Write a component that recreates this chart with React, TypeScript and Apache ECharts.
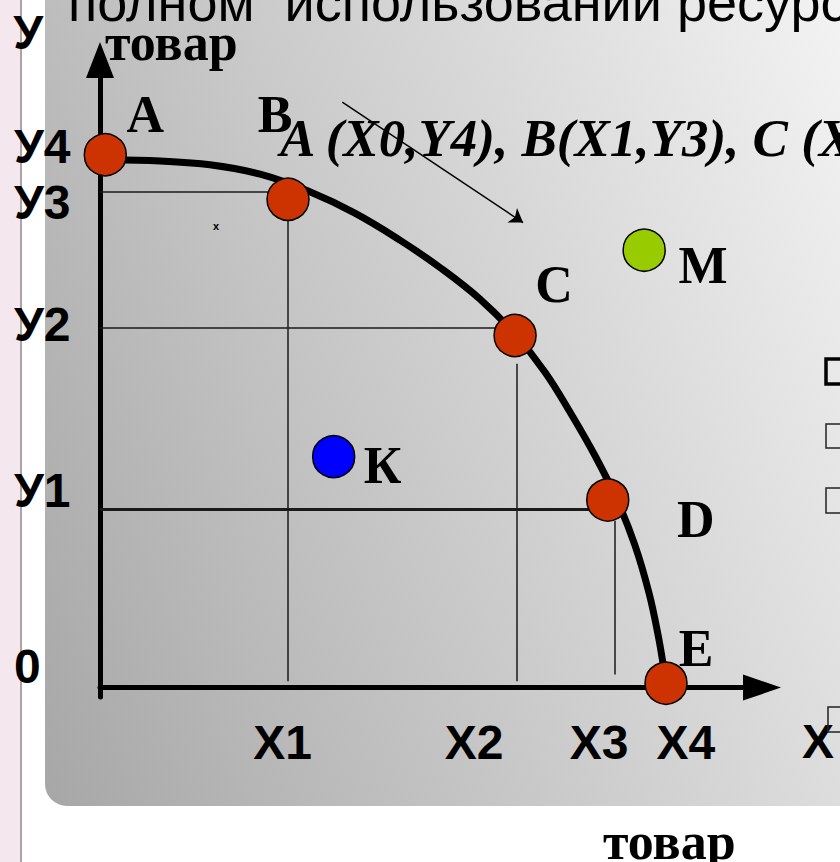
import React, { useEffect, useRef } from 'react';
import * as echarts from 'echarts';

// ---- tick labels ----
const xTickLabels = ['X1', 'X2', 'X3', 'X4'];
const xTickValues = [2.76, 5.65, 7.54, 8.85];
const yTickLabels = ['0', 'У1', 'У2', 'У3', 'У4'];
const yTickValues = [0.33, 3.14, 5.78, 7.73, 8.62];
const xAxisName = 'X';
const yAxisName = 'У';

// ---- frontier points ----
const frontierNames = ['A', 'B', 'C', 'D', 'E'];
const frontierX = [0.08, 2.84, 6.27, 7.67, 8.55];
const frontierY = [8.49, 7.78, 5.61, 2.99, 0.07];

// ---- other points ----
const otherNames = ['M', 'К'];
const otherX = [8.22, 3.53];
const otherY = [6.97, 3.68];

// ---- frontier curve ----
const curveX = [0.15, 0.91, 1.66, 2.42, 3.17, 3.85, 4.53, 5.14, 5.74, 6.27, 6.72, 7.1, 7.48, 7.81, 8.08, 8.29, 8.43, 8.52];
const curveY = [8.41, 8.39, 8.33, 8.18, 7.9, 7.56, 7.13, 6.69, 6.19, 5.63, 5.03, 4.39, 3.69, 2.99, 2.27, 1.52, 0.84, 0.28];

// ---- guide lines [x1, y1, x2, y2] ----
const guideLines = [
  [0, 7.9, 2.84, 7.9],
  [2.84, 7.78, 2.84, 0.1],
  [0, 5.73, 6.27, 5.73],
  [6.29, 5.16, 6.29, 0.1],
  [0, 2.84, 7.67, 2.84],
  [7.78, 2.66, 7.78, 0.21],
];
const guideWidths = [1.5, 1.5, 1.5, 1.5, 3, 1.5];

// ---- annotation arrow ----
const arrowFrom = [3.66, 9.33];
const arrowTo = [6.39, 7.41];

// ---- texts ----
const titleText = 'полном  использовании ресурсов';
const goodsText = 'товар';
const coordsText = 'A (X0,Y4), B(X1,Y3), C (X2,Y2), D (X3,Y1), E (X4,0)';
const strayText = 'x';

// ---- styles (kept apart from data) ----
const pointColors: Record<string, string> = {
  A: '#cc3300', B: '#cc3300', C: '#cc3300', D: '#cc3300', E: '#cc3300', M: '#99cc00', 'К': '#0000ff',
};
const labelOffsets: Record<string, [number, number]> = {
  A: [40, -40], B: [-13, -85], C: [39, -51], D: [88, 20], E: [30, -35], M: [59, 15], 'К': [49, 9],
};

const SANS = '"Liberation Sans", Arial, sans-serif';
const SERIF = '"Liberation Serif", "Times New Roman", serif';

function pick(values: number[], labels: string[], v: number) {
  const i = values.findIndex((t) => Math.abs(t - v) < 1e-6);
  return i >= 0 ? labels[i] : '';
}

export default function App() {
  const ref = useRef<HTMLDivElement>(null);

  useEffect(() => {
    if (!ref.current) return;
    const chart = echarts.init(ref.current, null, { renderer: 'svg', width: 840, height: 862 });

    const pointData = [
      ...frontierNames.map((n, i) => ({ name: n, value: [frontierX[i], frontierY[i]] })),
      ...otherNames.map((n, i) => ({ name: n, value: [otherX[i], otherY[i]] })),
    ].map((d) => ({
      ...d,
      itemStyle: { color: pointColors[d.name] },
      label: { offset: labelOffsets[d.name] },
    }));

    const labelFont = { fontFamily: SANS, fontWeight: 'bold' as const, fontSize: 48, color: '#000' };

    const option: any = {
      animation: false,
      backgroundColor: 'transparent',
      grid: { left: 100, top: 60, width: 662, height: 637, containLabel: false, outerBoundsMode: 'none' },
      xAxis: {
        type: 'value',
        min: 0,
        max: 10,
        axisLine: {
          show: true,
          onZero: true,
          lineStyle: { color: '#000', width: 5 },
          symbol: ['none', 'triangle'],
          symbolSize: [26, 38],
        },
        axisTick: { show: false },
        splitLine: { show: false },
        axisLabel: {
          customValues: xTickValues,
          formatter: (v: number) => pick(xTickValues, xTickLabels, v),
          margin: 21,
          ...labelFont,
        },
        name: xAxisName,
        nameLocation: 'end',
        nameGap: 40,
        nameMoveOverlap: false,
        nameTextStyle: { ...labelFont, align: 'left', verticalAlign: 'top', lineHeight: 108 },
      },
      yAxis: {
        type: 'value',
        min: -0.15,
        max: 10,
        axisLine: {
          show: true,
          onZero: true,
          lineStyle: { color: '#000', width: 5 },
          symbol: ['none', 'triangle'],
          symbolSize: [28, 36],
        },
        axisTick: { show: false },
        splitLine: { show: false },
        axisLabel: {
          customValues: yTickValues,
          formatter: (v: number) => pick(yTickValues, yTickLabels, v),
          align: 'left',
          margin: 86,
          ...labelFont,
        },
        name: yAxisName,
        nameLocation: 'end',
        nameGap: 4,
        nameMoveOverlap: false,
        nameTextStyle: { ...labelFont, align: 'right', verticalAlign: 'bottom', padding: [0, 57, 0, 0] },
      },
      graphic: {
        elements: [
          { type: 'rect', silent: true, z: -20, shape: { x: 0, y: 0, width: 20, height: 862 }, style: { fill: '#f4e7ee' } },
          { type: 'rect', silent: true, z: -20, shape: { x: 20, y: 0, width: 2, height: 862 }, style: { fill: '#a9a4a7' } },
          {
            type: 'rect', silent: true, z: -20,
            shape: { x: 45, y: -40, width: 860, height: 846, r: [0, 0, 0, 22] },
            style: {
              fill: new echarts.graphic.LinearGradient(45, 806, 1051, 400, [
                { offset: 0, color: '#a7a7a7' },
                { offset: 1, color: '#f6f6f6' },
              ], true),
            },
          },
          {
            type: 'text', silent: true, z: 5, x: 68, y: 2,
            style: { text: titleText, fontFamily: SANS, fontSize: 54, fill: '#000', align: 'left', verticalAlign: 'middle' },
          },
          {
            type: 'text', silent: true, z: 5, x: 105, y: 42,
            style: { text: goodsText, fontFamily: SERIF, fontWeight: 'bold', fontSize: 52, fill: '#000', align: 'left', verticalAlign: 'middle' },
          },
          {
            type: 'text', silent: true, z: 5, x: 603, y: 841,
            style: { text: goodsText, fontFamily: SERIF, fontWeight: 'bold', fontSize: 52, fill: '#000', align: 'left', verticalAlign: 'middle' },
          },
          {
            type: 'text', silent: true, z: 1, x: 280, y: 138,
            style: { text: coordsText, fontFamily: SERIF, fontWeight: 'bold', fontStyle: 'italic', fontSize: 53, fill: '#000', align: 'left', verticalAlign: 'middle' },
          },
          {
            type: 'text', silent: true, z: 5, x: 216, y: 226,
            style: { text: strayText, fontFamily: SANS, fontWeight: 'bold', fontSize: 11, fill: '#000', align: 'center', verticalAlign: 'middle' },
          },
          { type: 'rect', silent: true, z: 5, shape: { x: 826, y: 359, width: 20, height: 25 }, style: { fill: 'none', stroke: '#000', lineWidth: 3.5 } },
          { type: 'rect', silent: true, z: 5, shape: { x: 826, y: 424, width: 20, height: 24 }, style: { fill: 'none', stroke: '#222', lineWidth: 1.5 } },
          { type: 'rect', silent: true, z: 5, shape: { x: 826, y: 488, width: 20, height: 25 }, style: { fill: 'none', stroke: '#222', lineWidth: 1.5 } },
          { type: 'rect', silent: true, z: 5, shape: { x: 828, y: 707, width: 20, height: 25 }, style: { fill: 'none', stroke: '#222', lineWidth: 1.5 } },
        ],
      },
      series: [
        {
          type: 'lines',
          coordinateSystem: 'cartesian2d',
          z: 2,
          silent: true,
          symbol: 'none',
          data: guideLines.map((g, i) => ({
            coords: [[g[0], g[1]], [g[2], g[3]]],
            lineStyle: { width: guideWidths[i] },
          })),
          lineStyle: { color: '#1a1a1a', opacity: 1, curveness: 0 },
        },
        {
          type: 'line',
          z: 3,
          silent: true,
          smooth: 0.4,
          showSymbol: false,
          symbol: 'none',
          data: curveX.map((x, i) => [x, curveY[i]]),
          lineStyle: { color: '#000', width: 7, cap: 'round', join: 'round' },
        },
        {
          type: 'scatter',
          z: 4,
          silent: true,
          symbolSize: 42,
          itemStyle: { borderColor: '#000', borderWidth: 1.5, opacity: 1 },
          emphasis: { disabled: true },
          label: {
            show: true,
            position: 'inside',
            formatter: '{b}',
            fontFamily: SERIF,
            fontWeight: 'bold',
            fontSize: 52,
            color: '#000',
            textBorderWidth: 0,
          },
          data: pointData,
        },
        {
          type: 'lines',
          coordinateSystem: 'cartesian2d',
          z: 5,
          silent: true,
          symbol: ['none', 'arrow'],
          symbolSize: 13,
          data: [{ coords: [arrowFrom, arrowTo] }],
          lineStyle: { color: '#000', width: 1.5, opacity: 1, curveness: 0 },
        },
      ],
    };

    chart.setOption(option);
    return () => chart.dispose();
  }, []);

  return (
    <div
      ref={ref}
      style={{ position: 'absolute', left: 0, top: 0, width: 840, height: 862, background: '#ffffff' }}
    />
  );
}
